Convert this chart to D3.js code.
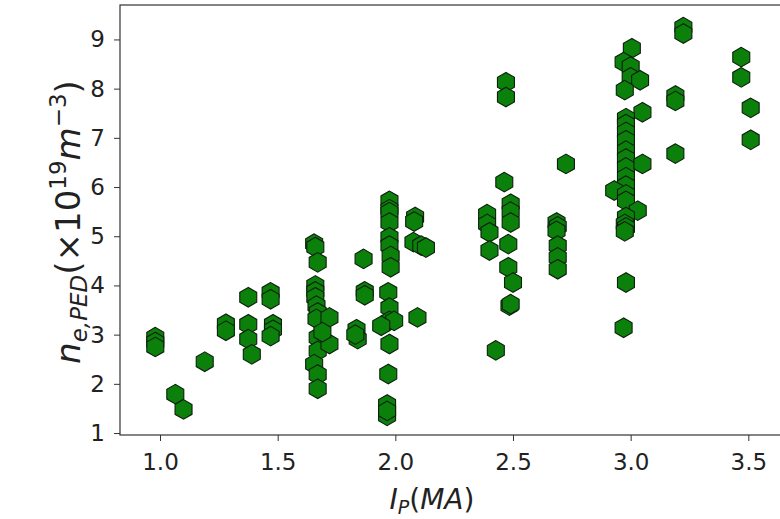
<!DOCTYPE html>
<html>
<head>
<meta charset="utf-8">
<script src="https://cdn.jsdelivr.net/npm/d3@7"></script>
<style>
  body { margin: 0; background: #fff; }
  svg { display: block; font-family: 'DejaVu Sans', sans-serif; }
</style>
</head>
<body>
<div id="chart"></div>
<script>
// plasma current (MA) and pedestal density (1e19 m^-3)
const ipValues = [
  0.98, 0.98, 0.98, 1.065, 1.10, 1.19, 1.28, 1.28,
  1.375, 1.375, 1.375, 1.39, 1.47, 1.47, 1.48, 1.48, 1.47,
  1.655, 1.66, 1.67, 1.66, 1.66, 1.66, 1.665, 1.67, 1.665, 1.67, 1.67, 1.655, 1.67, 1.67,
  1.72, 1.72, 1.69,
  1.865, 1.87, 1.87, 1.835, 1.84, 1.83,
  1.975, 1.975, 1.975, 1.975, 1.975, 1.975, 1.98, 1.98, 1.97, 1.975, 1.975, 1.995, 1.94,
  1.975, 1.97, 1.965, 1.965, 1.965,
  2.084, 2.08, 2.077, 2.11, 2.13, 2.094,
  2.39, 2.39, 2.40, 2.40, 2.427,
  2.47, 2.47, 2.463, 2.49, 2.49, 2.49, 2.48, 2.48, 2.50, 2.485, 2.49,
  2.685, 2.69, 2.685, 2.69, 2.69, 2.69, 2.725,
  3.005, 2.97, 3.0, 3.0, 3.04, 2.975, 3.05, 2.98, 2.98, 2.98, 2.98, 2.98, 2.98, 2.98,
  3.05, 2.98, 2.98, 2.93, 2.98, 2.98, 3.03, 2.98, 2.975, 2.98, 2.975, 2.98, 2.97,
  3.224, 3.224, 3.19, 3.19, 3.19,
  3.47, 3.47, 3.51, 3.51
]
const neValues = [
  2.95, 2.85, 2.75, 1.79, 1.48, 2.45, 3.22, 3.08,
  3.76, 3.21, 2.91, 2.60, 3.86, 3.72, 3.21, 3.10, 2.97,
  4.85, 4.78, 4.47, 4.00, 3.88, 3.76, 3.59, 3.45, 3.32, 2.94, 2.67, 2.40, 2.19, 1.90,
  3.35, 2.81, 3.05,
  4.54, 3.88, 3.80, 3.11, 2.91, 3.00,
  5.72, 5.55, 5.49, 5.28, 4.98, 4.81, 4.60, 4.37, 3.86, 3.55, 3.28, 3.28, 3.18,
  2.81, 2.20, 1.58, 1.35, 1.45,
  5.39, 5.30, 4.88, 4.81, 4.77, 3.35,
  5.45, 5.25, 5.08, 4.71, 2.68,
  8.13, 7.83, 6.10, 5.66, 5.50, 5.28, 4.84, 4.37, 4.06, 3.59, 3.62,
  5.28, 5.20, 5.11, 4.81, 4.57, 4.33, 6.47,
  8.82, 8.54, 8.45, 8.23, 8.17, 7.97, 7.52, 7.40, 7.28, 7.12, 6.95, 6.74, 6.58, 6.40,
  6.47, 6.20, 6.03, 5.93, 5.85, 5.72, 5.52, 5.39, 5.25, 5.18, 5.10, 4.06, 3.14,
  9.25, 9.12, 7.86, 7.75, 6.68,
  8.64, 8.23, 7.61, 6.96
]
const xTicks = [1.0, 1.5, 2.0, 2.5, 3.0, 3.5]
const yTicks = [1, 2, 3, 4, 5, 6, 7, 8, 9]

const width = 780
const height = 519
// the axes run past the right edge of the picture
const plot = { left: 120, right: 866, top: 5, bottom: 435 }

const svg = d3.select('#chart')
  .append('svg')
  .attr('width', width)
  .attr('height', height)

const x = d3.scaleLinear().domain([0.83, 4.0]).range([plot.left, plot.right])
const y = d3.scaleLinear().domain([0.96, 9.70]).range([plot.bottom, plot.top])

// matplotlib 'h' marker: hexagon with a vertex on top
const hexagon = {
  draw (context, size) {
    const r = Math.sqrt(size)
    for (let i = 0; i < 6; i++) {
      const a = Math.PI / 2 + i * Math.PI / 3
      const px = r * Math.cos(a)
      const py = -r * Math.sin(a)
      if (i === 0) context.moveTo(px, py)
      else context.lineTo(px, py)
    }
    context.closePath()
  }
}
const hexPath = d3.symbol().type(hexagon).size(9.8 * 9.8)()

svg.append('clipPath')
  .attr('id', 'plotclip')
  .append('rect')
  .attr('x', plot.left)
  .attr('y', plot.top)
  .attr('width', plot.right - plot.left)
  .attr('height', plot.bottom - plot.top)

const points = ipValues.map((d, i) => ({ ip: d, ne: neValues[i] }))

svg.append('g')
  .attr('clip-path', 'url(#plotclip)')
  .selectAll('path')
  .data(points)
  .enter()
  .append('path')
  .attr('d', hexPath)
  .attr('transform', d => `translate(${x(d.ip)},${y(d.ne)})`)
  .style('fill', '#0b800b')
  .style('stroke', '#0d1f0d')
  .style('stroke-width', 1.1)

// axes
const xAxis = svg.append('g')
  .attr('transform', `translate(0,${plot.bottom})`)
  .call(d3.axisBottom(x).tickValues(xTicks).tickFormat(d3.format('.1f')).tickSize(6).tickPadding(13).tickSizeOuter(0))
const yAxis = svg.append('g')
  .attr('transform', `translate(${plot.left},0)`)
  .call(d3.axisLeft(y).tickValues(yTicks).tickFormat(d3.format('d')).tickSize(6).tickPadding(9).tickSizeOuter(0))

for (const ax of [xAxis, yAxis]) {
  ax.select('.domain').remove()
  ax.selectAll('line').style('stroke', '#333').style('stroke-width', 1)
  ax.selectAll('text')
    .style('font-family', "'DejaVu Sans', sans-serif")
    .style('font-size', '23px')
    .style('fill', '#222')
}

// spines
svg.append('rect')
  .attr('x', plot.left)
  .attr('y', plot.top)
  .attr('width', plot.right - plot.left)
  .attr('height', plot.bottom - plot.top)
  .style('fill', 'none')
  .style('stroke', '#333')
  .style('stroke-width', 1.2)

// x label: I_P(MA)
const xl = svg.append('text')
  .attr('x', 432)
  .attr('y', 509)
  .attr('text-anchor', 'middle')
  .style('font-size', '28px')
  .style('fill', '#222')
xl.append('tspan').style('font-style', 'italic').text('I')
xl.append('tspan').style('font-style', 'italic').style('font-size', '19px').attr('dy', 5).text('P')
xl.append('tspan').attr('dy', -5).text('(')
xl.append('tspan').style('font-style', 'italic').text('MA')
xl.append('tspan').text(')')

// y label: n_{e,PED}(x10^{19} m^{-3})
const yl = svg.append('text')
  .attr('transform', `translate(80,${(plot.top + plot.bottom) / 2 + 2}) rotate(-90)`)
  .attr('text-anchor', 'middle')
  .style('font-size', '34px')
  .style('fill', '#222')
yl.append('tspan').style('font-style', 'italic').text('n')
yl.append('tspan').style('font-style', 'italic').style('font-size', '23px').attr('dy', 7).text('e,PED')
yl.append('tspan').attr('dy', -7).text('(×10')
yl.append('tspan').style('font-size', '23px').attr('dy', -14).text('19')
yl.append('tspan').style('font-style', 'italic').attr('dy', 14).text('m')
yl.append('tspan').style('font-size', '23px').attr('dy', -14).text('−3')
yl.append('tspan').attr('dy', 14).text(')')
</script>
</body>
</html>
